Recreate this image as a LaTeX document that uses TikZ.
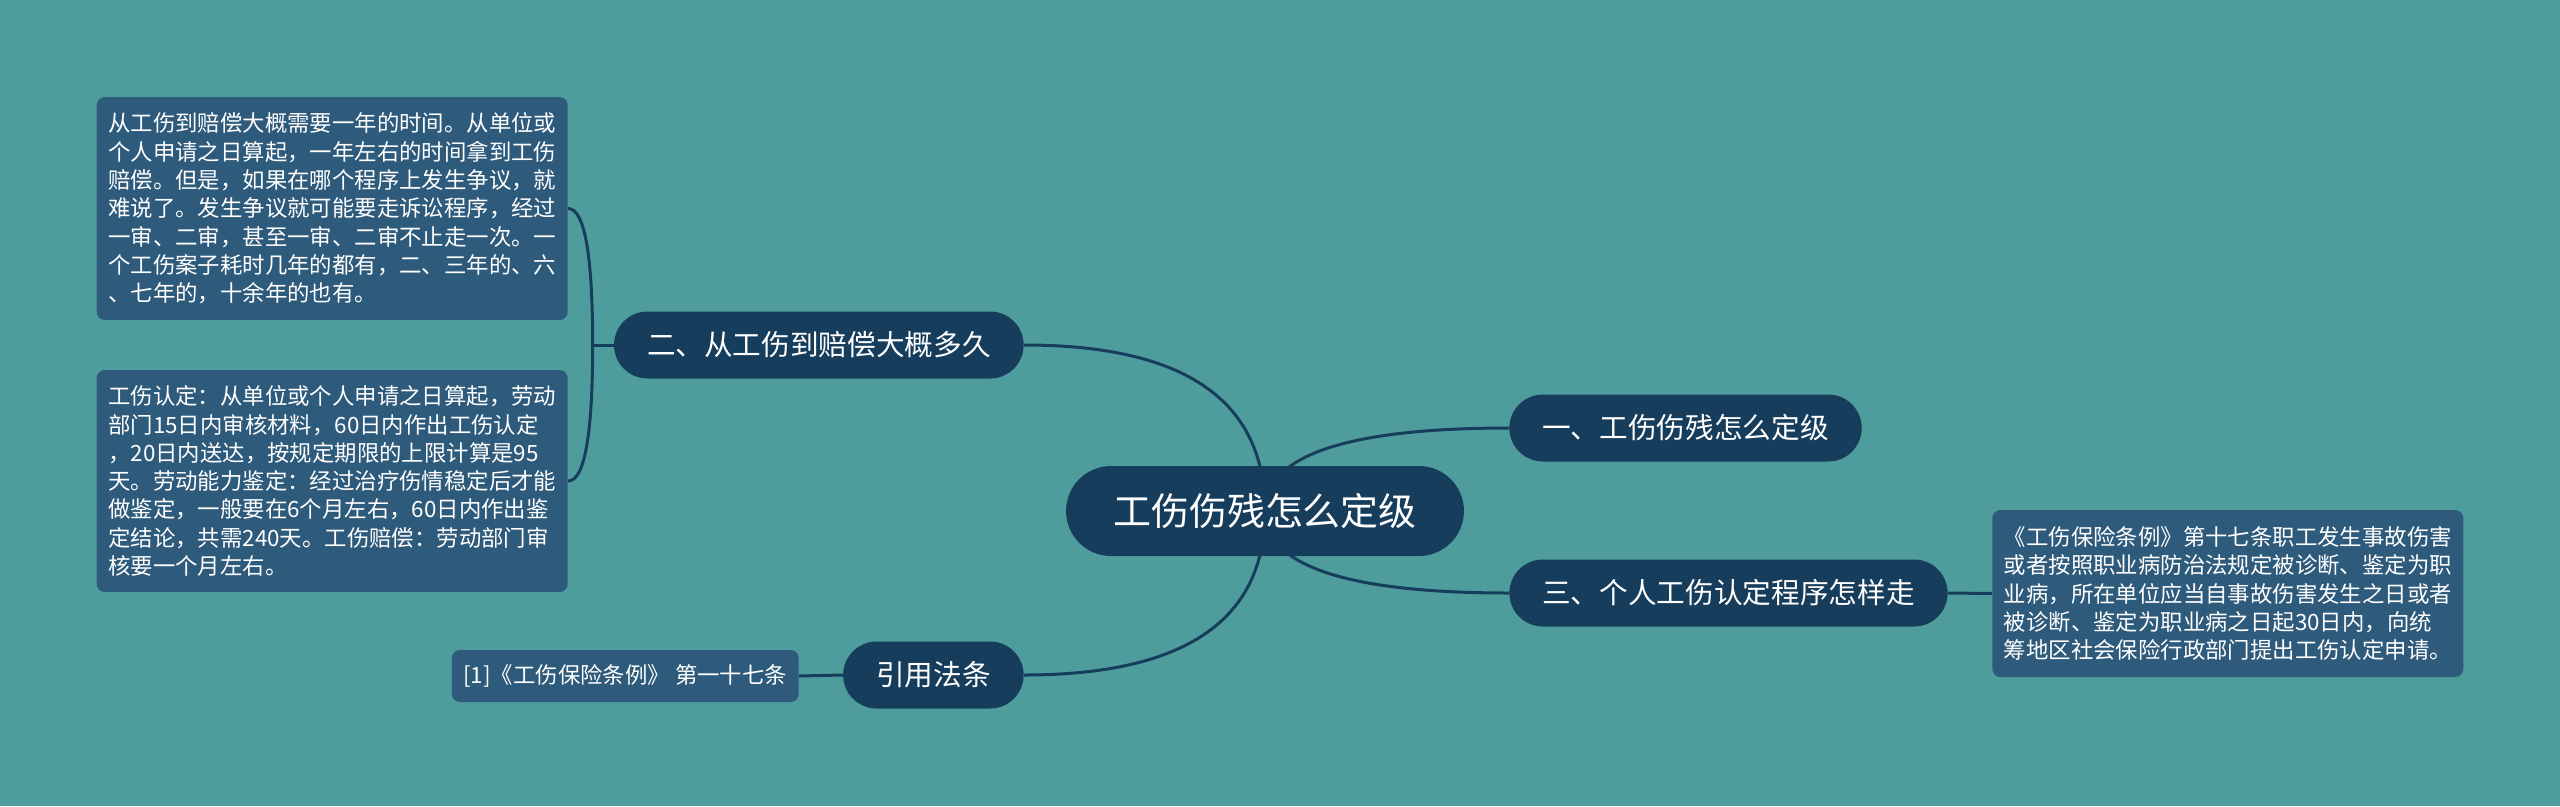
\documentclass[tikz,border=0pt]{standalone}
\usepackage{fontspec}
\setmainfont{Noto Sans CJK SC}
\usetikzlibrary{calc, backgrounds}

\definecolor{sea}{HTML}{4E9D9C}
\definecolor{navy}{HTML}{173D5C}
\definecolor{slate}{HTML}{2E5A7B}

\begin{document}
\begin{tikzpicture}[
  x=0.02cm, y=-0.02cm,
  root/.style={fill=navy, text=white, rounded corners=0.9cm, minimum height=1.8cm, minimum width=7.96cm, font=\fontsize{21.6pt}{26pt}\selectfont},
  topic/.style={fill=navy, text=white, rounded corners=0.67cm, minimum height=1.34cm, inner xsep=0.66cm, font=\fontsize{16.3pt}{20pt}\selectfont},
  note/.style={fill=slate, text=white, rounded corners=0.16cm, inner xsep=0.23cm, font=\fontsize{12.75pt}{16.1pt}\selectfont},
  memo/.style={note, text width=8.96cm, align=left},
  link/.style={draw=navy, line width=0.06cm}
]
\useasboundingbox (0,0) rectangle (2560,806);

\node[root] (root) at (1265,511) {工伤伤残怎么定级};

\node[topic, anchor=west] (n1) at (1509,428) {一、工伤伤残怎么定级};
\node[topic, anchor=west] (n3) at (1509,593) {三、个人工伤认定程序怎样走};
\node[topic, anchor=east] (n2) at (1024,345) {二、从工伤到赔偿大概多久};
\node[topic, anchor=east] (nref) at (1024,675) {引用法条};

\node[memo, minimum height=4.46cm, anchor=east] (note1) at (568,208.5) {从工伤到赔偿大概需要一年的时间。从单位或\\
个人申请之日算起，一年左右的时间拿到工伤\\
赔偿。但是，如果在哪个程序上发生争议，就\\
难说了。发生争议就可能要走诉讼程序，经过\\
一审、二审，甚至一审、二审不止走一次。一\\
个工伤案子耗时几年的都有，二、三年的、六\\
、七年的，十余年的也有。};
\node[memo, minimum height=4.44cm, anchor=east] (note2) at (568,481) {工伤认定：从单位或个人申请之日算起，劳动\\
部门15日内审核材料，60日内作出工伤认定\\
，20日内送达，按规定期限的上限计算是95\\
天。劳动能力鉴定：经过治疗伤情稳定后才能\\
做鉴定，一般要在6个月左右，60日内作出鉴\\
定结论，共需240天。工伤赔偿：劳动部门审\\
核要一个月左右。};
\node[memo, minimum height=3.34cm, anchor=west] (noteR) at (1992,593.5) {《工伤保险条例》第十七条职工发生事故伤害\\
或者按照职业病防治法规定被诊断、鉴定为职\\
业病，所在单位应当自事故伤害发生之日或者\\
被诊断、鉴定为职业病之日起30日内，向统\\
筹地区社会保险行政部门提出工伤认定申请。};
\node[note, minimum height=1.04cm, anchor=east] (noteRef) at (799,676) {[1]《工伤保险条例》 第一十七条};

\begin{scope}[on background layer]
  \fill[sea] (0,0) rectangle (2560,806);
  % branches out of the root
  \foreach \tgt/\side in {n1/west, n3/west, n2/east, nref/east}
    \draw[link] (root.center) .. controls ($(root.center)!0.667!(root.center |- \tgt.\side)$) and ($(\tgt.\side)!0.667!(root.center |- \tgt.\side)$) .. (\tgt.\side);
  % bracket to the two notes
  \coordinate (fork) at ($(n2.west)+(-21,0)$);
  \draw[link] (n2.west) -- (fork);
  \foreach \tgt in {note1, note2}
    \draw[link] (fork) .. controls ($(fork)!0.667!(fork |- \tgt.east)$) and ($(\tgt.east)!0.667!(fork |- \tgt.east)$) .. (\tgt.east);
  \draw[link] (n3.east) -- (noteR.west);
  \draw[link] (nref.west) -- (noteRef.east);
\end{scope}

\end{tikzpicture}
\end{document}
